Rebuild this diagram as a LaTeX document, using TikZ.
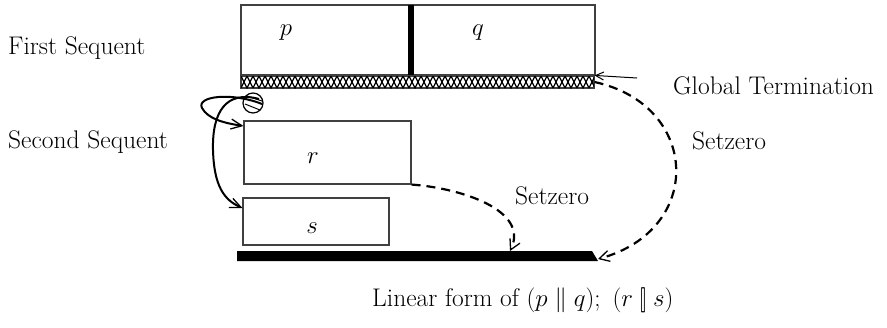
\documentclass[tikz,border=0pt]{standalone}
\usetikzlibrary{arrows.meta}
\begin{document}
\begin{tikzpicture}[x=1pt,y=-1pt,
  every node/.style={font=\fontsize{25.5}{30}\selectfont},
  box/.style={draw=black!75, line width=1.1pt, inner sep=0pt, rectangle},
  dashconn/.style={dash pattern=on 9pt off 6pt, line width=2.2pt, -{Straight Barb[length=10pt,width=11pt,line width=1.3pt]}},
  solconn/.style={line width=2pt, -{Straight Barb[length=11pt,width=10pt,line width=1.3pt]}},
  lbl/.style={anchor=west, inner sep=0pt}]
\useasboundingbox (0,0) rectangle (887,327);
% top boxes
\node[box, minimum width=170pt, minimum height=70pt] (P) at (326,40) {};
\node[box, minimum width=184pt, minimum height=70pt] (Q) at (503,40) {};
\fill (408,5) rectangle (414,75);
\node (pl) at (286,33) {$p$};
\node (ql) at (478,33) {$q$};
% hatched bar
\node[box, minimum width=353pt, minimum height=12pt] (H) at (417.5,82) {};
\begin{scope}
  \clip (241,76) rectangle (594,88);
  \foreach \i in {0,...,30} {
    \draw[line width=1.2pt] (241+12*\i,76) -- ++(6,12) -- ++(6,-12);
    \draw[line width=1.2pt] (241+12*\i,88) -- ++(6,-12) -- ++(6,12);
  }
\end{scope}
% global termination
\coordinate (gt) at (637,78);
\draw[line width=1pt, -{Straight Barb[length=8pt,width=8pt]}] (gt) -- (H.north east);
% r and s boxes
\node[box, minimum width=167pt, minimum height=63pt] (R) at (327.5,152.5) {};
\node[box, minimum width=146pt, minimum height=47pt] (S) at (316,221.5) {};
\node (rl) at (313,158) {$r$};
\node (sl) at (312,228) {$s$};
% bottom bar
\fill (237,251) -- (592,251) -- (598,261) -- (237,261) -- cycle;
\coordinate (bbR) at (598,259);
\coordinate (bbM) at (510,251);
% circle
\node[draw, circle, line width=1.2pt, minimum size=20pt, inner sep=0pt] (C) at (253,103) {};
\draw[line width=1pt] (247,96) -- (262,101);
\draw[line width=1pt] (245,104) -- (260,110);
% curved arrows from circle
\draw[solconn] (262,104) .. controls (232,92) and (196,96) .. (202,108)
  .. controls (208,119) and (224,123) .. (R.west |- 0,126);
\draw[solconn] (259,99) .. controls (226,90) and (212,112) .. (213,150)
  .. controls (214,186) and (224,200) .. (S.west |- 0,208);
% dashed connectors
\draw[dashconn] (R.south east) .. controls (460,188) and (530,210) .. (bbM);
\draw[dashconn] (H.east) .. controls (700,105) and (705,230) .. (bbR);
% labels
\node[lbl] (fs) at (8,48) {First Sequent};
\node[lbl] (gtl) at (673,86) {Global Termination};
\node[lbl] (ss) at (8,142) {Second Sequent};
\node[lbl] (sz1) at (692,141) {Setzero};
\node[lbl] (sz2) at (515,196) {Setzero};
\node[lbl] (cap) at (372,300) {Linear form of $(p \parallel q);\ (r \mathbin{[\mkern-2.5mu]} s)$};
\end{tikzpicture}
\end{document}
